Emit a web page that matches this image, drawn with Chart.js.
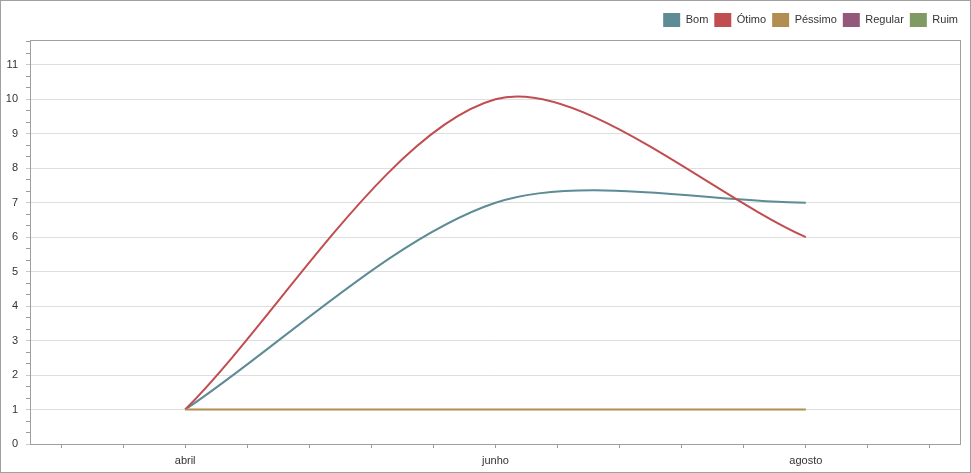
<!DOCTYPE html>
<html><head><meta charset="utf-8">
<script src="https://cdn.jsdelivr.net/npm/chart.js@4/dist/chart.umd.min.js"></script>
<style>
html,body{margin:0;padding:0;background:#fff;}
#frame{position:absolute;left:0;top:0;width:971px;height:473px;box-sizing:border-box;border:1px solid #a0a0a0;background:#fff;}
canvas{display:block;}
</style></head><body>
<div id="frame"><canvas id="c" width="969" height="471"></canvas></div>
<script>
const categories = ['abril', 'junho', 'agosto'];
const seriesNames = ['Bom', 'Ótimo', 'Péssimo', 'Regular', 'Ruim'];
const bom = [1, 7, 7];
const otimo = [1, 10, 6];
const pessimo = [1, 1, 1];
const regular = [];
const ruim = [];
const yTickLabels = ['0', '1', '2', '3', '4', '5', '6', '7', '8', '9', '10', '11'];
const seriesValues = [bom, otimo, pessimo, regular, ruim];
const seriesColors = ['#5d8b96', '#c04d4f', '#b38e52', '#93587a', '#7f9a62'];

Chart.defaults.font.family = "'Liberation Sans', Arial, sans-serif";
Chart.defaults.font.size = 11;
Chart.defaults.color = '#333333';

const isInt = v => Math.abs(v - Math.round(v)) < 1e-6;

const framePlugin = {
  id: 'plotFrame',
  afterLayout(chart) {
    if (chart.legend) { chart.legend.left += 3; chart.legend.right += 3; }
  },
  beforeDatasetsDraw(chart) {
    const a = chart.chartArea, ctx = chart.ctx;
    ctx.save();
    ctx.strokeStyle = '#a0a0a0';
    ctx.lineWidth = 1;
    ctx.strokeRect(Math.round(a.left) + 0.5, Math.round(a.top) + 0.5,
      Math.round(a.right - a.left) - 1, Math.round(a.bottom - a.top));
    ctx.restore();
  }
};

const datasets = seriesNames.map((name, si) => ({
  label: name,
  data: seriesValues[si].map((v, i) => ({x: i, y: v})),
  borderColor: seriesColors[si],
  backgroundColor: seriesColors[si],
  borderWidth: 2,
  tension: 0.3,
  pointRadius: 0,
  pointHoverRadius: 0,
  fill: false,
  order: -si
}));

new Chart(document.getElementById('c'), {
  type: 'line',
  data: {datasets},
  plugins: [framePlugin],
  options: {
    responsive: false,
    animation: false,
    devicePixelRatio: 1,
    layout: {padding: {top: 6, right: 9, left: 0, bottom: 0}},
    plugins: {
      tooltip: {enabled: false},
      title: {display: true, text: '', weight: 1, padding: 0, font: {size: 3, lineHeight: 1}},
      legend: {
        position: 'top',
        align: 'end',
        labels: {
          boxWidth: 17,
          boxHeight: 14,
          padding: 6,
          color: '#333333',
          font: {size: 11},
          sort: (a, b) => a.datasetIndex - b.datasetIndex,
          generateLabels(chart) {
            const items = Chart.defaults.plugins.legend.labels.generateLabels(chart);
            items.forEach(it => { it.lineWidth = 0; it.fillStyle = seriesColors[it.datasetIndex]; it.strokeStyle = seriesColors[it.datasetIndex]; });
            return items;
          }
        }
      }
    },
    scales: {
      x: {
        type: 'linear',
        min: -0.5,
        max: 2.5,
        afterBuildTicks(scale) {
          const t = [];
          for (let k = -2; k <= 12; k++) t.push({value: k * 0.2});
          scale.ticks = t;
        },
        afterFit(scale) { scale.height = 28; },
        ticks: {
          autoSkip: false,
          maxRotation: 0,
          padding: 6,
          callback: v => isInt(v) ? categories[Math.round(v)] : ''
        },
        grid: {drawOnChartArea: false, tickLength: 4, tickColor: '#9a9a9a'},
        border: {display: false}
      },
      y: {
        type: 'linear',
        min: 0,
        max: 11.72,
        afterBuildTicks(scale) {
          const t = [];
          for (let k = 0; k <= 35; k++) t.push({value: k / 3});
          scale.ticks = t;
        },
        afterFit(scale) { scale.width = 29; },
        ticks: {
          autoSkip: false,
          padding: 8,
          callback: v => isInt(v) ? yTickLabels[Math.round(v)] : ''
        },
        grid: {
          tickLength: 4,
          color: c => (c.tick && isInt(c.tick.value)) ? '#dedede' : 'rgba(0,0,0,0)',
          tickColor: c => (c.tick && isInt(c.tick.value)) ? '#c8c8c8' : '#9a9a9a'
        },
        border: {display: false}
      }
    }
  }
});
</script>
</body></html>
